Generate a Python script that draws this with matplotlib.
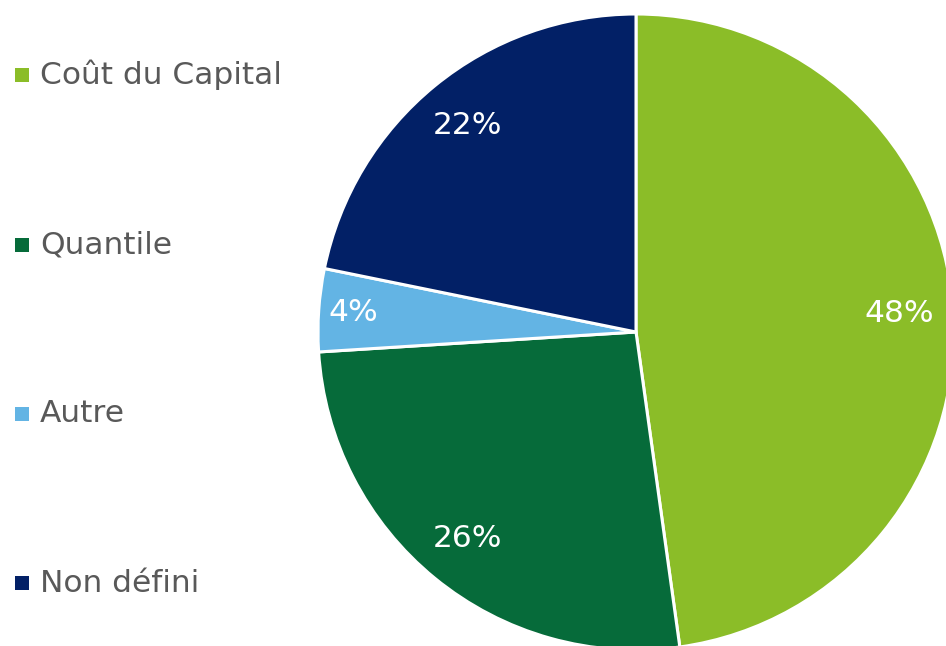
import matplotlib
matplotlib.use("Agg")
import matplotlib.pyplot as plt
import numpy as np

categories = ["Coût du Capital", "Quantile", "Autre", "Non défini"]
values = [47.8, 26.2, 4.2, 21.8]
colors = ["#8BBD28", "#066B3A", "#63B4E4", "#022066"]
label_dist = [0.83, 0.84, 0.89, 0.84]

plt.rcParams['font.family'] = ['DejaVu Sans']

fig = plt.figure(figsize=(9.46, 6.46), dpi=100)
ax = fig.add_axes([0, 0, 1, 1])

W, H = 946, 646
cx, cy, R = 636, H - 332, 318

wedges, _ = ax.pie(values, colors=colors, startangle=90, counterclock=False,
                   center=(cx, cy), radius=R,
                   wedgeprops=dict(edgecolor="white", linewidth=2.2))

total = sum(values)
for w, v, d in zip(wedges, values, label_dist):
    mid = np.deg2rad((w.theta1 + w.theta2) / 2)
    ax.text(cx + d * R * np.cos(mid), cy + d * R * np.sin(mid),
            f"{round(100 * v / total)}%", color="white", fontsize=22.5,
            ha="center", va="center")

# legend
leg_y = [332 - 257, 332 - 87, 332 + 82, 332 + 251]
for cat, col, y in zip(categories, colors, leg_y):
    ax.scatter([22], [H - y], marker="s", s=110, color=col, linewidths=0)
    ax.text(40, H - y, cat, color="#595959", fontsize=22.5, ha="left", va="center")

ax.set_xlim(0, W)
ax.set_ylim(0, H)
ax.set_aspect("auto")
ax.axis("off")

fig.savefig("out.png", dpi=100)
